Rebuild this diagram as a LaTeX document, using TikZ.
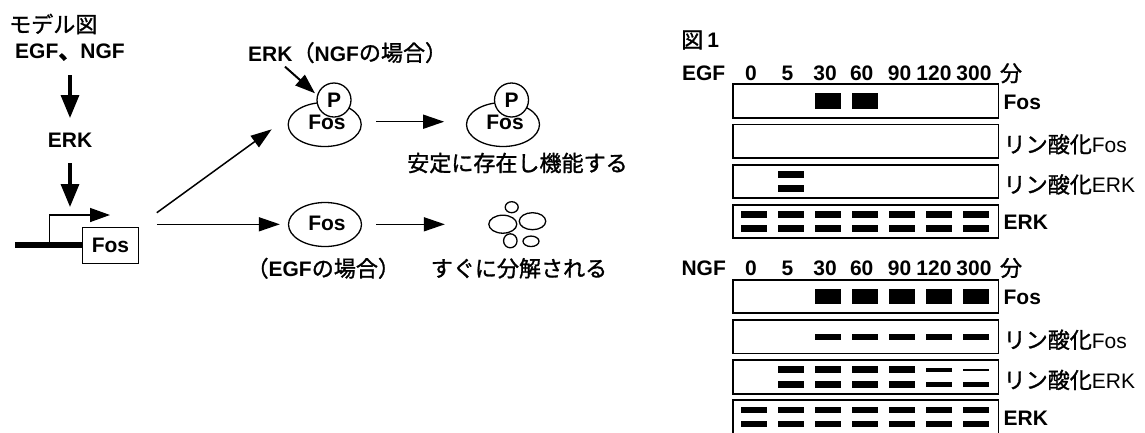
\documentclass[tikz,border=0pt]{standalone}
\usepackage{fontspec}
\setmainfont{Liberation Sans}
\newfontfamily\jp{Noto Sans CJK JP}[FakeBold=1.3,Scale=1.05]
\usetikzlibrary{arrows.meta,shapes.geometric,calc}
\newcommand\J[1]{{\jp #1}}
\newcommand\Bf[1]{{\bfseries #1}}
\begin{document}
\begin{tikzpicture}[x=1pt,y=-1pt,
  txt/.style={inner sep=0pt, font=\fontsize{21}{24}\selectfont},
  lab/.style={inner sep=0pt, font=\fontsize{21}{24}\selectfont\bfseries},
  bigarrow/.style={line width=3.3pt, -{Triangle[length=23pt,width=18pt]}},
  arr/.style={line width=1.5pt, -{Triangle[length=21pt,width=14pt]}},
  thinarr/.style={line width=1.5pt, -{Triangle[length=20pt,width=14pt]}},
  blot/.style={draw, line width=1.8pt, minimum width=265.5pt, minimum height=33.5pt, inner sep=0pt},
  fosell/.style={draw, ellipse, line width=1.3pt, minimum width=73pt, minimum height=44pt, inner sep=0pt},
  pcirc/.style={draw, circle, line width=1.3pt, fill=white, minimum size=34pt, inner sep=0pt},
  frag/.style={draw, ellipse, line width=1.3pt, inner sep=0pt},
]
\useasboundingbox (0,0) rectangle (1145,432);
\clip (0,0) rectangle (1145,432);

% ---------------- model diagram ----------------
\node[txt, anchor=west] (title) at (9,24) {\J{モデル図}};
\node[lab] (egf) at (70,52.5) {EGF\J{、}NGF};
\node[lab] (erk) at (70,140.5) {ERK};
\coordinate (erkhit) at (70,207);
\draw[bigarrow] ($(egf.center)+(0,22.5)$) -- ($(erk.center)+(0,-22.5)$);
\draw[bigarrow] ($(erk.center)+(0,22.5)$) -- (erkhit);

\node[draw, line width=1.3pt, minimum width=56.5pt, minimum height=36pt, inner sep=0pt,
      font=\fontsize{21}{24}\selectfont\bfseries] (fosbox) at (110.5,245.3) {Fos};
\coordinate (dnastart) at (15,245.3);
\coordinate (tss) at (49.3,245.3);
\coordinate (tssend) at (110,215);
\draw[line width=6pt] (dnastart) -- (fosbox.west);
\draw[thinarr] (tss) |- (tssend);

% upper branch (NGF)
\node[fosell] (pfos1) at (324.7,124.5) {};
\node[pcirc] (p1) at (334,100) {\Bf{\fontsize{21}{24}\selectfont P}};
\node[lab] (fos1t) at (327,122) {Fos};
\node[fosell] (pfos2) at (503,124.5) {};
\node[pcirc] (p2) at (511.5,100) {\Bf{\fontsize{21}{24}\selectfont P}};
\node[lab] (fos2t) at (505,122) {Fos};

\node[txt, anchor=base west] (erkngf) at (248,61) {\Bf{ERK}\J{（}\Bf{NGF}\J{の場合）}};
\coordinate (pa) at (285,66.7);
\coordinate (pb) at (315,93.3);
\draw[line width=2pt, -{Triangle[length=20pt,width=14pt]}] (pa) -- (pb);

\node[txt] (stable) at (517.5,163) {\J{安定に存在し機能する}};

% lower branch (EGF)
\node[fosell] (fos3) at (325,224.5) {};
\node[lab] (fos3t) at (327,223.3) {Fos};
\node[txt] (egfcase) at (323.3,268.3) {\J{（}\Bf{EGF}\J{の場合）}};

\node[frag, minimum width=13pt, minimum height=11pt] (frag1) at (511.7,207.2) {};
\node[frag, minimum width=28pt, minimum height=18pt] (frag2) at (502.8,224.2) {};
\node[frag, minimum width=26.5pt, minimum height=17pt] (frag3) at (532.5,221.2) {};
\node[frag, minimum width=13.5pt, minimum height=14pt] (frag4) at (510.3,240.8) {};
\node[frag, minimum width=16pt, minimum height=10.5pt] (frag5) at (531,241.3) {};
\node[txt] (degr) at (519,268.3) {\J{すぐに分解される}};

% connectors
\draw[arr] ($(fosbox.east)+(17.4,-32.6)$) -- ($(pfos1.center)+(-53,4.8)$);
\draw[arr] ($(fosbox.east)+(17.4,-21)$) -- ($(fos3.west)+(-8,-0.2)$);
\draw[arr] ($(pfos1.east)+(14.3,-2.8)$) -- ($(pfos2.west)+(-21.7,-2.8)$);
\draw[arr] ($(fos3.east)+(14.3,-0.2)$) -- ($(frag2.west)+(-43.3,0.1)$);

% ---------------- figure 1 ----------------
\node[txt, anchor=west] (fig) at (681,40) {\J{図}\hspace{4pt}\Bf{1}};

% headers
\foreach \name/\yy in {EGF/73.3, NGF/268} {
  \node[lab] at (703.7,\yy) {\name};
  \foreach \t/\xx in {0/751, 5/787.5, 30/825, 60/861.7, 90/899.5, 120/934, 300/974}
    \node[lab] at (\xx,\yy) {\t};
  \node[txt] at (1011,\yy) {\J{分}};
}

% boxes
\foreach \pre/\ya in {e/101, n/296.5} {
  \node[blot] (\pre fos)  at (865.8,\ya) {};
  \node[blot] (\pre pfos) at (865.8,\ya+40.2) {};
  \node[blot] (\pre perk) at (865.8,\ya+80.4) {};
  \node[blot] (\pre erk)  at (865.8,\ya+120.6) {};
  \node[lab, anchor=west] at ($(\pre fos.east)+(4,1)$) {Fos};
  \node[txt, anchor=west] at ($(\pre pfos.east)+(4,3)$) {\J{リン酸化}Fos};
  \node[txt, anchor=west] at ($(\pre perk.east)+(4,3)$) {\J{リン酸化}ERK};
  \node[lab, anchor=west] at ($(\pre erk.east)+(4,1)$) {ERK};
}

% bands: \x = 753.5 + 37 i
% EGF Fos
\foreach \i in {2,3}
  \fill (753.5+37*\i-13, 101-7.8) rectangle (753.5+37*\i+13, 101+7.8);
% EGF p-ERK
\foreach \i in {1}{
  \fill (753.5+37*\i-13, 181.4-7-3.3) rectangle (753.5+37*\i+13, 181.4-7+3.3);
  \fill (753.5+37*\i-13, 181.4+7-3.3) rectangle (753.5+37*\i+13, 181.4+7+3.3);}
% EGF ERK
\foreach \i in {0,...,6}{
  \fill (753.5+37*\i-13, 221.6-7-3.3) rectangle (753.5+37*\i+13, 221.6-7+3.3);
  \fill (753.5+37*\i-13, 221.6+7-3.3) rectangle (753.5+37*\i+13, 221.6+7+3.3);}
% NGF Fos
\foreach \i in {2,...,6}
  \fill (753.5+37*\i-13, 296.3-7.8) rectangle (753.5+37*\i+13, 296.3+7.8);
% NGF p-Fos
\foreach \i in {2,...,6}
  \fill (753.5+37*\i-13, 336.8-3) rectangle (753.5+37*\i+13, 336.8+3);
% NGF p-ERK
\foreach \i in {1,...,4}{
  \fill (753.5+37*\i-13, 376.9-7.3-3.3) rectangle (753.5+37*\i+13, 376.9-7.3+3.3);
  \fill (753.5+37*\i-13, 376.9+7.3-3.3) rectangle (753.5+37*\i+13, 376.9+7.3+3.3);}
\fill (753.5+37*5-13, 369.8-2.3) rectangle (753.5+37*5+13, 369.8+2.3);
\fill (753.5+37*5-13, 384.2-2.5) rectangle (753.5+37*5+13, 384.2+2.5);
\fill (753.5+37*6-13, 369.8-1.3) rectangle (753.5+37*6+13, 369.8+1.3);
\fill (753.5+37*6-13, 384.2-2.5) rectangle (753.5+37*6+13, 384.2+2.5);
% NGF ERK
\foreach \i in {0,...,6}{
  \fill (753.5+37*\i-13, 417.1-7-3.3) rectangle (753.5+37*\i+13, 417.1-7+3.3);
  \fill (753.5+37*\i-13, 417.1+7-3.3) rectangle (753.5+37*\i+13, 417.1+7+3.3);}
\end{tikzpicture}
\end{document}
